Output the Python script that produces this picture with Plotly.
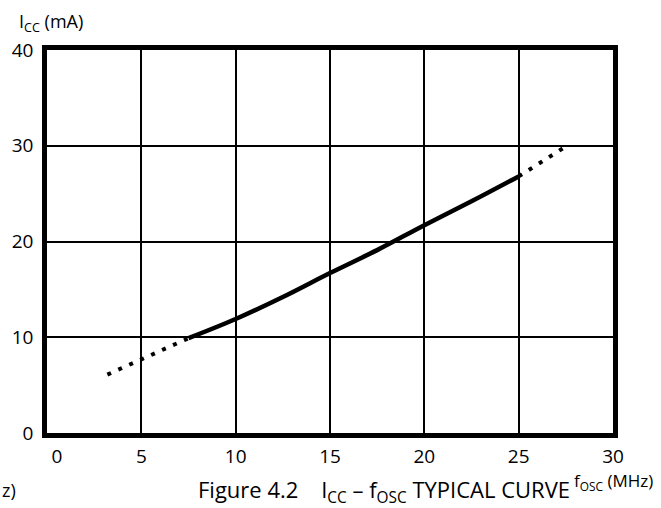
import plotly.graph_objects as go

# curve: f_OSC (MHz) -> I_CC (mA)
f_solid = [7.5, 10, 12.5, 15, 17.5, 20, 22.5, 25]
icc_solid = [9.9, 11.9, 14.2, 16.7, 19.1, 21.7, 24.2, 26.8]
f_low = [3.2, 7.5]
icc_low = [6.1, 9.9]
f_high = [25, 27.4]
icc_high = [26.8, 29.8]

x_ticks = [0, 5, 10, 15, 20, 25, 30]
x_labels = ["\u00a0\u00a0\u00a0\u00a00", "5", "10", "15", "20", "25", "30"]
y_ticks = [0, 10, 20, 30, 40]

FONT = "Open Sans, Noto Sans, sans-serif"
NB = "\u00a0"

fig = go.Figure()

# dotted extrapolation at both ends, solid measured part in between
for xs, ys in [(f_low, icc_low), (f_high, icc_high)]:
    fig.add_trace(go.Scatter(x=xs, y=ys, mode="lines",
                             line=dict(color="black", width=4, dash="4px,8px")))
fig.add_trace(go.Scatter(x=f_solid, y=icc_solid, mode="lines",
                         line=dict(color="black", width=4.5, shape="spline")))

fig.update_layout(
    width=661, height=508,
    margin=dict(l=47, r=48, t=50, b=75),
    plot_bgcolor="white", paper_bgcolor="white",
    showlegend=False,
    font=dict(family=FONT, size=19, color="black"),
)

fig.update_xaxes(range=[0, 30], tickvals=x_ticks, ticktext=x_labels,
                 showgrid=True, gridcolor="black", gridwidth=2, zeroline=False,
                 showline=True, linecolor="black", linewidth=4.5, mirror=True,
                 ticks="", ticklabelstandoff=2)
fig.update_yaxes(range=[0, 40], tickvals=y_ticks, showgrid=True,
                 gridcolor="black", gridwidth=2, zeroline=False,
                 showline=True, linecolor="black", linewidth=4.5, mirror=True,
                 ticks="", ticklabelstandoff=5)

fig.add_annotation(text="I<sub>CC</sub> (mA)", xref="paper", yref="paper",
                   x=-0.053, y=1.072, xanchor="left", yanchor="middle",
                   showarrow=False, font=dict(size=18))
fig.add_annotation(text="f<sub>OSC</sub> (MHz)", xref="paper", yref="paper",
                   x=1.074, y=-0.126, xanchor="right", yanchor="middle",
                   showarrow=False, font=dict(size=17))
fig.add_annotation(text="Figure 4.2" + NB * 3 + " I<sub>CC</sub> – f<sub>OSC</sub> TYPICAL CURVE",
                   xref="paper", yref="paper", x=0.596, y=-0.152,
                   xanchor="center", yanchor="middle",
                   showarrow=False, font=dict(size=22))
fig.add_annotation(text="z)", xref="paper", yref="paper",
                   x=-0.083, y=-0.149, xanchor="left", yanchor="middle",
                   showarrow=False, font=dict(size=18))

fig.write_html("out.html", config={"displayModeBar": False},
               post_script="document.body.style.margin='0';")
